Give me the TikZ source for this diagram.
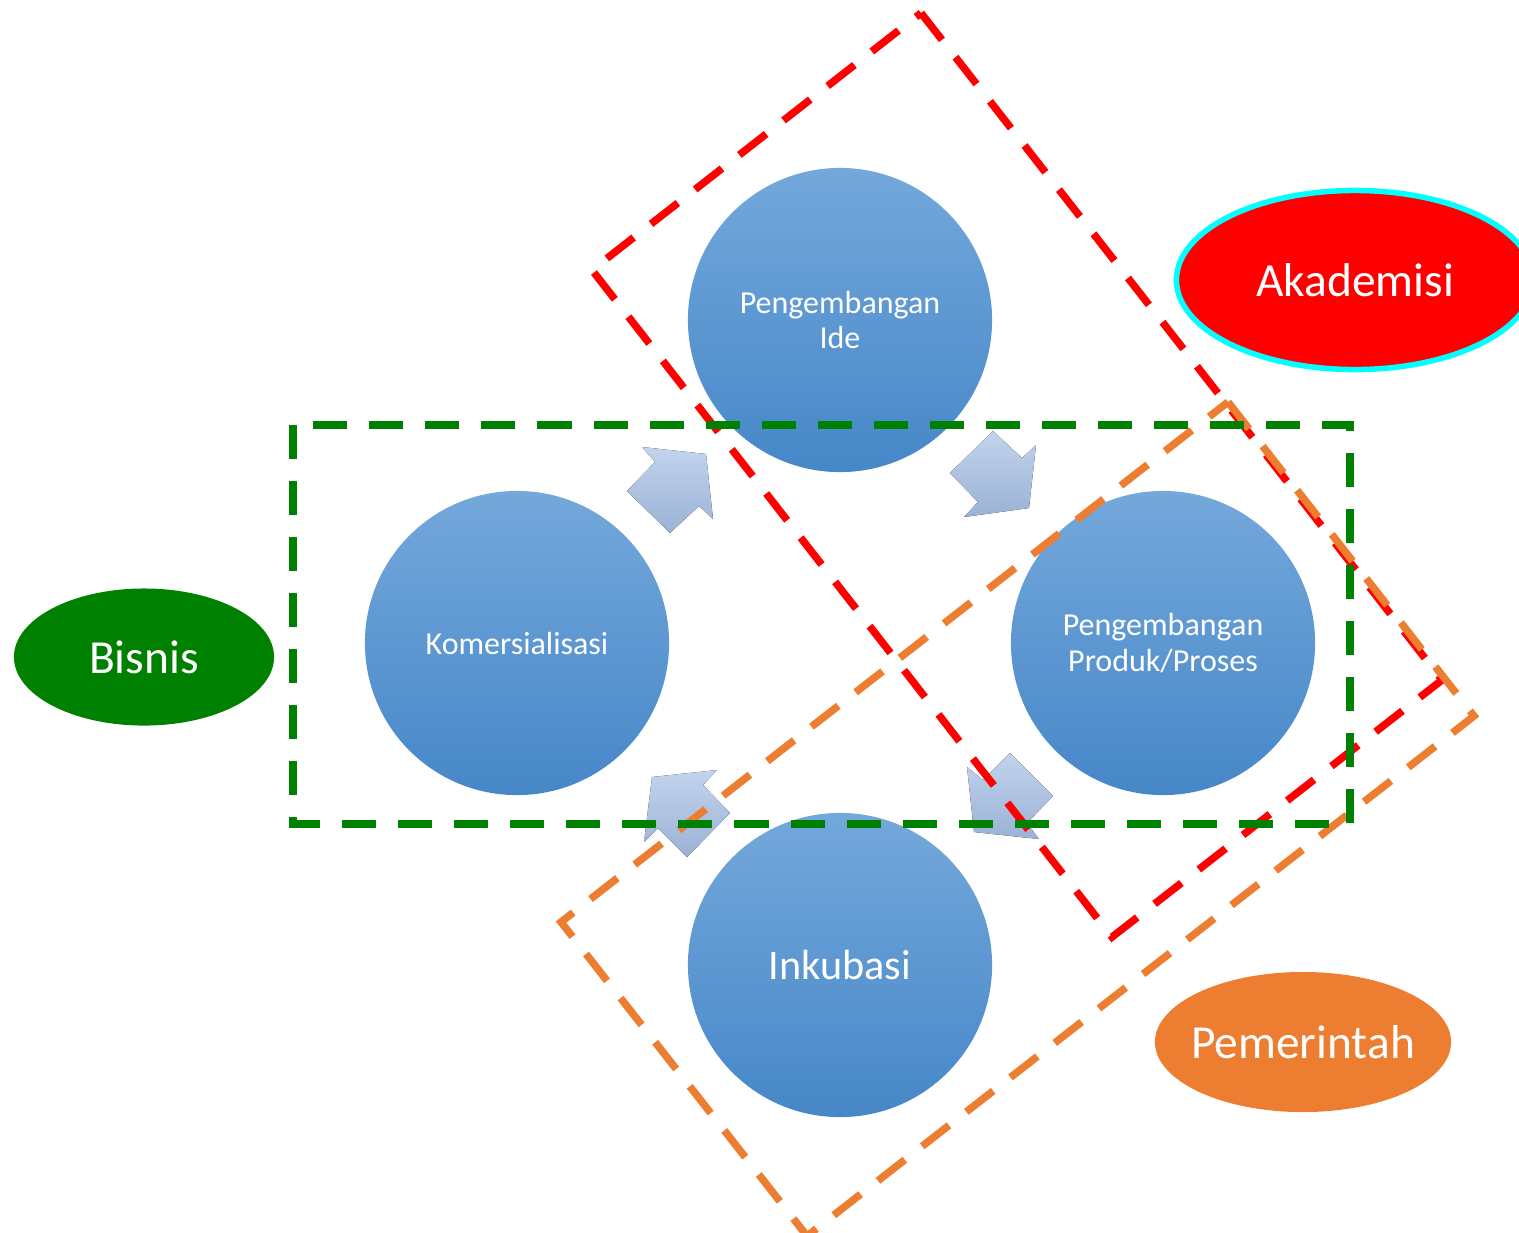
\documentclass[tikz,border=0pt]{standalone}
\usepackage{fontspec}
\setmainfont{Carlito}
\usetikzlibrary{shapes.geometric}
\definecolor{stagetop}{RGB}{116,168,219}
\definecolor{stagebot}{RGB}{70,135,200}
\definecolor{arrtop}{RGB}{194,212,237}
\definecolor{arrbot}{RGB}{155,178,214}
\definecolor{akadred}{RGB}{255,0,0}
\definecolor{akadcyan}{RGB}{0,255,255}
\definecolor{bisgreen}{RGB}{0,128,0}
\definecolor{pemorange}{RGB}{237,125,49}

\begin{document}
\begin{tikzpicture}[x=0.01cm,y=-0.01cm,
    stage/.style={circle,minimum size=3.04cm,inner sep=0pt,align=center,text=white,
      top color=stagetop,bottom color=stagebot,font=\fontsize{9.1}{10}\selectfont},
    cyclearrow/.style={top color=arrtop,bottom color=arrbot},
    actor/.style={ellipse,inner ysep=0pt,inner xsep=-8pt,text=white,font=\fontsize{13.5}{16}\selectfont},
    zone/.style={line width=0.075cm,dash pattern=on 0.34cm off 0.22cm}]
  \useasboundingbox (0,0) rectangle (1519,1232);

  \node[stage] (ide) at (840,320) {Pengembangan\\Ide};
  \node[stage] (produk) at (1163,643) {Pengembangan\\Produk/Proses};
  \node[stage,font=\fontsize{12}{14}\selectfont] (inkubasi) at (840,965) {Inkubasi};
  \node[stage] (komersial) at (517,643) {Komersialisasi};

  \fill[cyclearrow] (642,447) -- (655,462) -- (627,491) -- (670,533) -- (699,506)
    -- (713,519) -- (706,454) -- cycle;
  \fill[cyclearrow] (993,431) -- (1022,458) -- (1036,445) -- (1029,508) -- (964,517)
    -- (978,502) -- (950,473) -- cycle;
  \fill[cyclearrow] (967,767) -- (983,780) -- (1010,753) -- (1053,796) -- (1027,823)
    -- (1039,839) -- (974,832) -- cycle;
  \fill[cyclearrow] (652,777) -- (717,770) -- (703,785) -- (730,813) -- (687,857)
    -- (658,828) -- (644,842) -- cycle;

  \coordinate (aT) at (921,13);  \coordinate (aR) at (1442,680);
  \coordinate (aB) at (1112,937); \coordinate (aL) at (592,270);
  \coordinate (pT) at (1228,402); \coordinate (pR) at (1474,716);
  \coordinate (pB) at (807,1236); \coordinate (pL) at (561,922);
  \draw[zone,akadred] (aT) -- (aR) -- (aB) -- (aL) -- cycle;
  \draw[zone,pemorange] (pT) -- (pR) -- (pB) -- (pL) -- cycle;
  \draw[zone,bisgreen] (293,425) rectangle (1350,824);

  \node[actor,fill=bisgreen,minimum width=2.6cm,minimum height=1.37cm] (bisnis) at (144,657) {Bisnis};
  \node[actor,fill=akadred,draw=akadcyan,line width=0.055cm,minimum width=3.57cm,
    minimum height=1.79cm] (akademisi) at (1355,280) {Akademisi};
  \node[actor,fill=pemorange,minimum width=2.96cm,minimum height=1.4cm] (pemerintah) at (1303,1042) {Pemerintah};
\end{tikzpicture}
\end{document}
